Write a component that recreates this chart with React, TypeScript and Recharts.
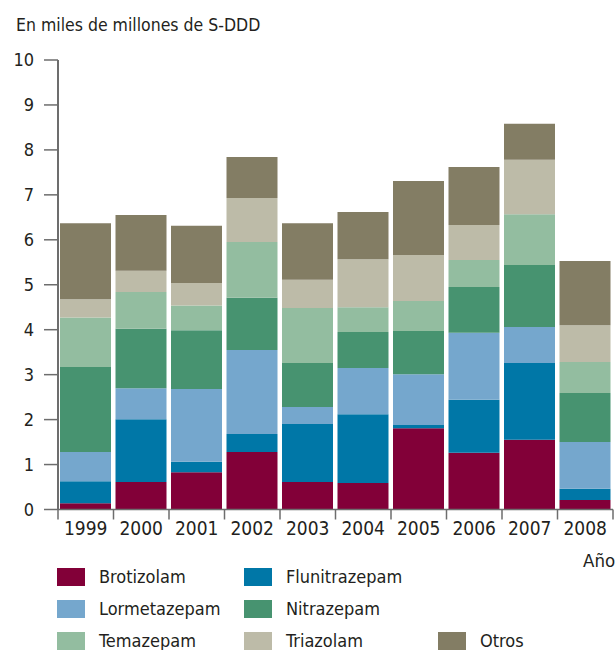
import { BarChart, Bar, XAxis, YAxis } from 'recharts';

const years = ['1999', '2000', '2001', '2002', '2003', '2004', '2005', '2006', '2007', '2008'];

// valores en miles de millones de S-DDD
const brotizolam = [0.14, 0.61, 0.83, 1.28, 0.61, 0.59, 1.81, 1.26, 1.55, 0.21];
const flunitrazepam = [0.49, 1.4, 0.23, 0.4, 1.29, 1.53, 0.07, 1.18, 1.71, 0.25];
const lormetazepam = [0.65, 0.69, 1.62, 1.87, 0.38, 1.03, 1.13, 1.49, 0.8, 1.04];
const nitrazepam = [1.89, 1.32, 1.31, 1.16, 0.98, 0.8, 0.96, 1.02, 1.38, 1.09];
const temazepam = [1.1, 0.82, 0.55, 1.24, 1.22, 0.55, 0.67, 0.6, 1.13, 0.69];
const triazolam = [0.41, 0.47, 0.5, 0.98, 0.63, 1.07, 1.02, 0.78, 1.21, 0.82];
const otros = [1.69, 1.24, 1.27, 0.91, 1.26, 1.05, 1.65, 1.29, 0.8, 1.43];

const yTicks = [0, 1, 2, 3, 4, 5, 6, 7, 8, 9, 10];

const series = [
  { key: 'brotizolam', name: 'Brotizolam', color: '#820038', values: brotizolam },
  { key: 'flunitrazepam', name: 'Flunitrazepam', color: '#0077a7', values: flunitrazepam },
  { key: 'lormetazepam', name: 'Lormetazepam', color: '#75a7cd', values: lormetazepam },
  { key: 'nitrazepam', name: 'Nitrazepam', color: '#479370', values: nitrazepam },
  { key: 'temazepam', name: 'Temazepam', color: '#93bda0', values: temazepam },
  { key: 'triazolam', name: 'Triazolam', color: '#bdbba8', values: triazolam },
  { key: 'otros', name: 'Otros', color: '#837d64', values: otros },
];

const chartData = years.map((year, i) => {
  const row: any = { year };
  series.forEach((s) => {
    row[s.key] = s.values[i];
  });
  return row;
});

// posición de cada entrada de la leyenda (fila, columna)
const legendLayout = [
  { key: 'brotizolam', row: 0, col: 0 },
  { key: 'flunitrazepam', row: 0, col: 1 },
  { key: 'lormetazepam', row: 1, col: 0 },
  { key: 'nitrazepam', row: 1, col: 1 },
  { key: 'temazepam', row: 2, col: 0 },
  { key: 'triazolam', row: 2, col: 1 },
  { key: 'otros', row: 2, col: 2 },
];

const FONT = "'Liberation Sans Narrow', 'DejaVu Sans Condensed', 'Arial Narrow', Roboto, sans-serif";
const TEXT = '#231f20';
const AXIS = '#6d6d6d';
const TICK_SIZE = 10;
const TICK_MARGIN = 2;

// etiqueta del año + marca en el borde izquierdo de cada banda (y en el derecho de la última)
function YearTick(props: any) {
  const { x, y, payload, index, visibleTicksCount } = props;
  const half = payload?.offset ?? 0;
  const axisY = y - TICK_SIZE - TICK_MARGIN;
  const isLast = index === visibleTicksCount - 1;
  return (
    <g>
      <line x1={x - half} x2={x - half} y1={axisY} y2={axisY + TICK_SIZE} stroke={AXIS} strokeWidth={1.5} />
      {isLast && (
        <line x1={x + half} x2={x + half} y1={axisY} y2={axisY + TICK_SIZE} stroke={AXIS} strokeWidth={1.5} />
      )}
      <text x={x} y={y} dy="0.71em" textAnchor="middle" fontSize={19} fill={TEXT} fontFamily={FONT}>
        {payload.value}
      </text>
    </g>
  );
}

export default function App() {
  const colX = [57, 244, 438];
  const rowY = [568, 599.5, 632];

  return (
    <div
      style={{
        position: 'absolute',
        left: 0,
        top: 0,
        width: 616,
        height: 650,
        overflow: 'hidden',
        background: '#fff',
        fontFamily: FONT,
        fontStretch: 'condensed',
        color: TEXT,
      }}
    >
      <div style={{ position: 'absolute', left: 16, top: 13, fontSize: 17.5, lineHeight: '24px' }}>
        En miles de millones de S-DDD
      </div>

      <BarChart
        width={616}
        height={560}
        data={chartData}
        margin={{ top: 60, right: 3, left: 0, bottom: 11.5 }}
      >
        <XAxis
          dataKey="year"
          height={39}
          tickSize={TICK_SIZE}
          tickMargin={TICK_MARGIN}
          tickLine={false}
          axisLine={{ stroke: AXIS, strokeWidth: 1.5 }}
          tick={<YearTick />}
          interval={0}
        />
        <YAxis
          domain={[0, 10]}
          ticks={yTicks}
          width={58}
          tickSize={14}
          tickMargin={10}
          axisLine={{ stroke: AXIS, strokeWidth: 2 }}
          tickLine={{ stroke: AXIS, strokeWidth: 1.5 }}
          tick={{ fontSize: 18, fill: TEXT, fontFamily: FONT }}
          interval={0}
        />
        {series.map((s) => (
          <Bar
            key={s.key}
            dataKey={s.key}
            name={s.name}
            stackId="a"
            fill={s.color}
            barSize={51}
            isAnimationActive={false}
          />
        ))}
      </BarChart>

      <div style={{ position: 'absolute', left: 583, top: 549, fontSize: 18.5, lineHeight: '24px', whiteSpace: 'nowrap' }}>
        Año
      </div>

      {legendLayout.map((l) => {
        const s = series.find((x) => x.key === l.key)!;
        return (
          <div
            key={l.key}
            style={{
              position: 'absolute',
              left: colX[l.col],
              top: rowY[l.row],
              height: 18,
              display: 'flex',
              alignItems: 'center',
              whiteSpace: 'nowrap',
            }}
          >
            <div style={{ width: 28, height: 18, background: s.color }} />
            <span style={{ marginLeft: 14, fontSize: 18, lineHeight: '18px' }}>{s.name}</span>
          </div>
        );
      })}
    </div>
  );
}
